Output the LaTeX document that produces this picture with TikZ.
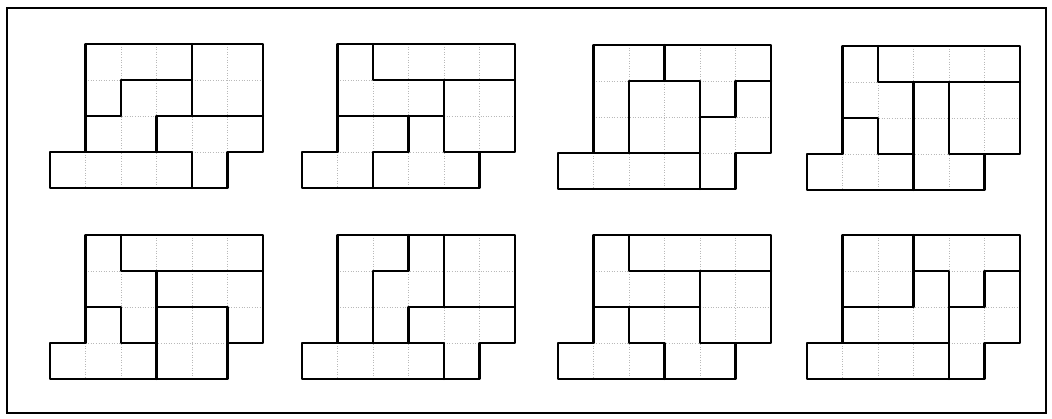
\documentclass[tikz,border=0pt]{standalone}
\begin{document}
\begin{tikzpicture}[x=1pt,y=-1pt,
  gridline/.style={gray!55,dotted,line width=0.6pt},
  outline/.style={black,line width=2.3pt,line join=round,line cap=round},
  cut/.style={black,line width=2.2pt,line join=round,line cap=round}]
\useasboundingbox (0,0) rectangle (1052,418);
\fill[white] (0,0) rectangle (1052,418);
\draw[black,line width=2pt] (7,7.5) rectangle (1046,412.5);
\newcommand\panel[3]{%
  \begin{scope}[shift={(#1pt,-#2pt)},x=35.5pt,y=-36pt]
    \draw[gridline] (2,0)--(2,4) (3,0)--(3,4) (4,0)--(4,4) (1,3)--(1,4) (5,0)--(5,3)
                    (1,1)--(6,1) (1,2)--(6,2) (1,3)--(5,3);
    \draw[cut] #3;
    \draw[outline] (1,0)--(6,0)--(6,3)--(5,3)--(5,4)--(0,4)--(0,3)--(1,3)--cycle;
  \end{scope}}
% top row
\panel{50}{44}{(4,0)--(4,2) (2,2)--(2,1)--(4,1) (1,2)--(2,2) (3,2)--(6,2) (3,2)--(3,3) (1,3)--(4,3) (4,3)--(4,4)}
\panel{302}{44}{(2,0)--(2,1)--(6,1) (4,1)--(4,3)--(5,3) (1,2)--(4,2) (3,2)--(3,3)--(2,3)--(2,4)}
\panel{558}{45}{(3,0)--(3,1) (2,3)--(2,1)--(4,1) (4,1)--(4,4) (1,3)--(4,3) (4,2)--(5,2)--(5,1)--(6,1)}
\panel{807}{46}{(2,0)--(2,1)--(6,1) (3,1)--(3,4) (4,1)--(4,3)--(5,3) (1,2)--(2,2)--(2,3)--(3,3)}
% bottom row
\panel{50}{235}{(2,0)--(2,1)--(6,1) (3,1)--(3,4) (1,2)--(2,2)--(2,3)--(3,3) (3,2)--(5,2)--(5,3)}
\panel{302}{235}{(3,0)--(3,1)--(2,1)--(2,3) (4,0)--(4,2) (3,2)--(6,2) (3,2)--(3,3) (1,3)--(4,3) (4,3)--(4,4)}
\panel{558}{235}{(2,0)--(2,1)--(6,1) (4,1)--(4,3)--(5,3) (1,2)--(4,2) (2,2)--(2,3)--(3,3)--(3,4)}
\panel{807}{235}{(3,0)--(3,2) (3,1)--(4,1)--(4,4) (1,2)--(3,2) (4,2)--(5,2)--(5,1)--(6,1) (1,3)--(4,3)}
\end{tikzpicture}
\end{document}
